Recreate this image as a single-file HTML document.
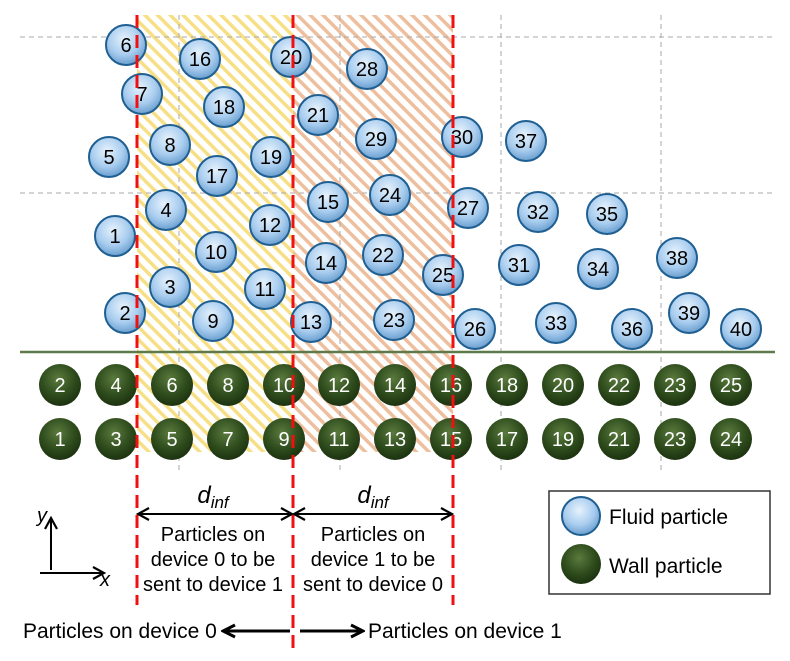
<!DOCTYPE html>
<html><head><meta charset="utf-8"><style>
html,body{margin:0;padding:0;background:#fff}
svg{display:block}
text{font-family:"Liberation Sans",Arial,sans-serif}
</style></head><body>
<svg width="790" height="661" viewBox="0 0 790 661" xmlns="http://www.w3.org/2000/svg">
<defs>
<pattern id="hy" width="9" height="9" patternUnits="userSpaceOnUse" patternTransform="rotate(-45)">
<rect width="9" height="9" fill="#fff"/><rect width="3.5" height="9" fill="#f7df86"/></pattern>
<pattern id="ho" width="9" height="9" patternUnits="userSpaceOnUse" patternTransform="rotate(-45)">
<rect width="9" height="9" fill="#fff"/><rect width="3.5" height="9" fill="#eebf9e"/></pattern>
<radialGradient id="gb" cx="45%" cy="35%" r="65%">
<stop offset="0" stop-color="#e6f2fc"/><stop offset="0.6" stop-color="#a9cdef"/><stop offset="1" stop-color="#6a9fcf"/></radialGradient>
<radialGradient id="gg" cx="45%" cy="35%" r="65%">
<stop offset="0" stop-color="#5a7a3e"/><stop offset="0.6" stop-color="#2f4d1d"/><stop offset="1" stop-color="#1c3210"/></radialGradient>
<marker id="ar" markerWidth="14" markerHeight="14" refX="12" refY="7" orient="auto-start-reverse" markerUnits="userSpaceOnUse">
<path d="M1,1 L12,7 L1,13" fill="none" stroke="#000" stroke-width="2.2"/></marker>
<marker id="ar2" markerWidth="16" markerHeight="16" refX="14" refY="8" orient="auto" markerUnits="userSpaceOnUse">
<path d="M2,2 L14,8 L2,14" fill="none" stroke="#000" stroke-width="3"/></marker>
</defs>
<rect x="137" y="15" width="156" height="437" fill="url(#hy)"/>
<rect x="293" y="15" width="160" height="437" fill="url(#ho)"/>
<g stroke="#aaa" stroke-width="1" stroke-dasharray="5,4">
<line x1="20" y1="37" x2="775" y2="37"/><line x1="20" y1="193" x2="775" y2="193"/>
<line x1="179" y1="15" x2="179" y2="470"/><line x1="340" y1="15" x2="340" y2="470"/>
<line x1="501" y1="15" x2="501" y2="470"/><line x1="661" y1="15" x2="661" y2="470"/>
</g>
<line x1="20" y1="352" x2="775" y2="352" stroke="#5e7a4a" stroke-width="2.5"/>
<g stroke="#1f5f92" stroke-width="2" fill="url(#gb)">
<circle cx="126" cy="45" r="20"/><circle cx="200" cy="59" r="20"/><circle cx="291" cy="57" r="20"/><circle cx="367" cy="69" r="20"/>
<circle cx="142" cy="94" r="20"/><circle cx="224" cy="107" r="20"/><circle cx="318" cy="115" r="20"/><circle cx="376" cy="139" r="20"/>
<circle cx="462" cy="137" r="20"/><circle cx="526" cy="141" r="20"/><circle cx="109" cy="157" r="20"/><circle cx="170" cy="145" r="20"/>
<circle cx="271" cy="157" r="20"/><circle cx="217" cy="176" r="20"/><circle cx="166" cy="210" r="20"/><circle cx="328" cy="202" r="20"/>
<circle cx="390" cy="195" r="20"/><circle cx="468" cy="208" r="20"/><circle cx="538" cy="212" r="20"/><circle cx="607" cy="214" r="20"/>
<circle cx="115" cy="236" r="20"/><circle cx="270" cy="225" r="20"/><circle cx="216" cy="252" r="20"/><circle cx="326" cy="263" r="20"/>
<circle cx="383" cy="255" r="20"/><circle cx="443" cy="275" r="20"/><circle cx="519" cy="265" r="20"/><circle cx="598" cy="269" r="20"/>
<circle cx="677" cy="258" r="20"/><circle cx="170" cy="287" r="20"/><circle cx="265" cy="289" r="20"/><circle cx="125" cy="313" r="20"/>
<circle cx="213" cy="321" r="20"/><circle cx="311" cy="322" r="20"/><circle cx="394" cy="320" r="20"/><circle cx="475" cy="329" r="20"/>
<circle cx="556" cy="323" r="20"/><circle cx="632" cy="329" r="20"/><circle cx="689" cy="313" r="20"/><circle cx="741" cy="329" r="20"/>
</g>
<g font-size="20" fill="#000" text-anchor="middle">
<text x="126" y="52">6</text><text x="200" y="66">16</text><text x="291" y="64">20</text><text x="367" y="76">28</text>
<text x="142" y="101">7</text><text x="224" y="114">18</text><text x="318" y="122">21</text><text x="376" y="146">29</text>
<text x="462" y="144">30</text><text x="526" y="148">37</text><text x="109" y="164">5</text><text x="170" y="152">8</text>
<text x="271" y="164">19</text><text x="217" y="183">17</text><text x="166" y="217">4</text><text x="328" y="209">15</text>
<text x="390" y="202">24</text><text x="468" y="215">27</text><text x="538" y="219">32</text><text x="607" y="221">35</text>
<text x="115" y="243">1</text><text x="270" y="232">12</text><text x="216" y="259">10</text><text x="326" y="270">14</text>
<text x="383" y="262">22</text><text x="443" y="282">25</text><text x="519" y="272">31</text><text x="598" y="276">34</text>
<text x="677" y="265">38</text><text x="170" y="294">3</text><text x="265" y="296">11</text><text x="125" y="320">2</text>
<text x="213" y="328">9</text><text x="311" y="329">13</text><text x="394" y="327">23</text><text x="475" y="336">26</text>
<text x="556" y="330">33</text><text x="632" y="336">36</text><text x="689" y="320">39</text><text x="741" y="336">40</text>
</g>
<g fill="url(#gg)">
<circle cx="60" cy="385" r="21"/><circle cx="116" cy="385" r="21"/><circle cx="172" cy="385" r="21"/><circle cx="228" cy="385" r="21"/><circle cx="284" cy="385" r="21"/><circle cx="339" cy="385" r="21"/><circle cx="395" cy="385" r="21"/><circle cx="451" cy="385" r="21"/><circle cx="507" cy="385" r="21"/><circle cx="563" cy="385" r="21"/><circle cx="619" cy="385" r="21"/><circle cx="675" cy="385" r="21"/><circle cx="731" cy="385" r="21"/>
<circle cx="60" cy="439" r="21"/><circle cx="116" cy="439" r="21"/><circle cx="172" cy="439" r="21"/><circle cx="228" cy="439" r="21"/><circle cx="284" cy="439" r="21"/><circle cx="339" cy="439" r="21"/><circle cx="395" cy="439" r="21"/><circle cx="451" cy="439" r="21"/><circle cx="507" cy="439" r="21"/><circle cx="563" cy="439" r="21"/><circle cx="619" cy="439" r="21"/><circle cx="675" cy="439" r="21"/><circle cx="731" cy="439" r="21"/>
</g>
<g font-size="20" fill="#fff" text-anchor="middle">
<text x="60" y="392">2</text><text x="116" y="392">4</text><text x="172" y="392">6</text><text x="228" y="392">8</text><text x="284" y="392">10</text><text x="339" y="392">12</text><text x="395" y="392">14</text><text x="451" y="392">16</text><text x="507" y="392">18</text><text x="563" y="392">20</text><text x="619" y="392">22</text><text x="675" y="392">23</text><text x="731" y="392">25</text>
<text x="60" y="446">1</text><text x="116" y="446">3</text><text x="172" y="446">5</text><text x="228" y="446">7</text><text x="284" y="446">9</text><text x="339" y="446">11</text><text x="395" y="446">13</text><text x="451" y="446">15</text><text x="507" y="446">17</text><text x="563" y="446">19</text><text x="619" y="446">21</text><text x="675" y="446">23</text><text x="731" y="446">24</text>
</g>
<g stroke="#f01010" stroke-width="3" stroke-dasharray="13,7">
<line x1="137" y1="15" x2="137" y2="605"/><line x1="293" y1="15" x2="293" y2="648"/><line x1="453" y1="15" x2="453" y2="605"/>
</g>
<g stroke="#000" stroke-width="2" fill="none">
<line x1="138" y1="514" x2="292" y2="514" marker-end="url(#ar)" marker-start="url(#ar)"/>
<line x1="294" y1="514" x2="452" y2="514" marker-end="url(#ar)" marker-start="url(#ar)"/>
<line x1="51" y1="570" x2="51" y2="518" marker-end="url(#ar)"/>
<line x1="40" y1="573" x2="104" y2="573" marker-end="url(#ar)"/>
<line x1="290" y1="631" x2="223" y2="631" stroke-width="3" marker-end="url(#ar2)"/>
<line x1="300" y1="631" x2="363" y2="631" stroke-width="3" marker-end="url(#ar2)"/>
</g>
<g font-size="20" fill="#000" text-anchor="middle">
<text x="213" y="503" font-size="24" font-style="italic">d<tspan font-size="17" dy="5">inf</tspan></text>
<text x="373" y="503" font-size="24" font-style="italic">d<tspan font-size="17" dy="5">inf</tspan></text>
<text x="213" y="541">Particles on</text><text x="213" y="566">device 0 to be</text><text x="213" y="591">sent to device 1</text>
<text x="373" y="541">Particles on</text><text x="373" y="566">device 1 to be</text><text x="373" y="591">sent to device 0</text>
</g>
<text x="37" y="522" font-family="Liberation Serif,serif" font-style="italic" font-size="20">y</text>
<text x="100" y="586" font-family="Liberation Serif,serif" font-style="italic" font-size="20">x</text>
<text x="23" y="638" font-size="21">Particles on device 0</text>
<text x="368" y="638" font-size="21">Particles on device 1</text>
<rect x="549" y="491" width="221" height="103" fill="#fff" stroke="#333" stroke-width="1.5"/>
<circle cx="581" cy="516" r="19" fill="url(#gb)" stroke="#1f5f92" stroke-width="2"/>
<circle cx="581" cy="564" r="20" fill="url(#gg)"/>
<text x="609" y="524" font-size="21">Fluid particle</text>
<text x="609" y="573" font-size="21">Wall particle</text>
</svg>
</body></html>
